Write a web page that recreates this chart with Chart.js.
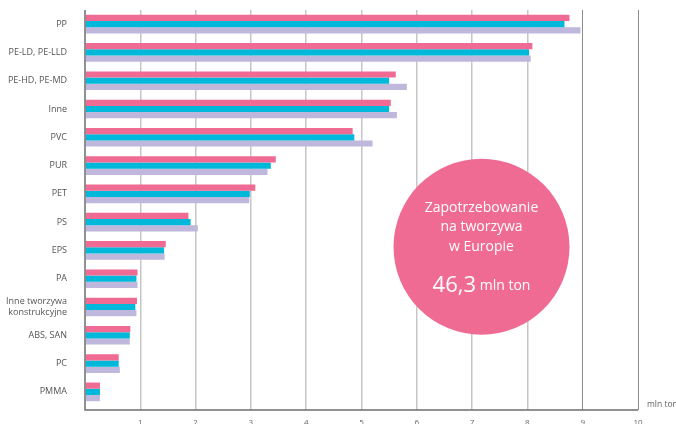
<!DOCTYPE html>
<html>
<head>
<meta charset="utf-8">
<script src="https://cdn.jsdelivr.net/npm/chart.js@4/dist/chart.umd.min.js"></script>
<style>
html,body{margin:0;padding:0;background:#fff;}
#wrap{width:676px;height:424px;position:relative;}
</style>
</head>
<body>
<div id="wrap"><canvas id="c" width="676" height="424"></canvas></div>
<script>
const categories = ['PP','PE-LD, PE-LLD','PE-HD, PE-MD','Inne','PVC','PUR','PET','PS','EPS','PA',['Inne tworzywa','konstrukcyjne'],'ABS, SAN','PC','PMMA'];
const series1 = [8.76, 8.09, 5.62, 5.53, 4.84, 3.45, 3.08, 1.87, 1.46, 0.95, 0.94, 0.82, 0.61, 0.27];
const series2 = [8.67, 8.03, 5.50, 5.50, 4.87, 3.36, 2.98, 1.91, 1.43, 0.93, 0.91, 0.81, 0.61, 0.27];
const series3 = [8.96, 8.06, 5.82, 5.64, 5.20, 3.30, 2.97, 2.04, 1.44, 0.95, 0.93, 0.81, 0.63, 0.27];
const xTicks = [0,1,2,3,4,5,6,7,8,9,10];
const unitLabel = 'mln ton';
const circleLines = ['Zapotrzebowanie','na tworzywa','w Europie'];
const totalValue = '46,3';

const FONT = '"Open Sans", sans-serif';
const PINK = '#F06B94', CYAN = '#00B8D9', LAV = '#C0B7DC';

const overlay = {
  id: 'overlay',
  afterDatasetsDraw(chart) {
    const ctx = chart.ctx, a = chart.chartArea, xs = chart.scales.x;
    ctx.save();
    ctx.strokeStyle = '#6e6e6e';
    ctx.lineWidth = 1.5;
    ctx.beginPath();
    ctx.moveTo(a.left, a.top);
    ctx.lineTo(a.left, a.bottom + 4);
    ctx.lineTo(xs.getPixelForValue(10), a.bottom + 4);
    ctx.stroke();
    // unit label
    ctx.fillStyle = '#666';
    ctx.font = '8.5px ' + FONT;
    ctx.textAlign = 'left';
    ctx.textBaseline = 'middle';
    ctx.fillText(unitLabel, xs.getPixelForValue(10) + 9, a.bottom - 1);
    // circle
    const cx = xs.getPixelForValue(7.17);
    const cy = a.top + (a.bottom - a.top) * 0.598;
    ctx.fillStyle = PINK;
    ctx.beginPath();
    ctx.arc(cx, cy, 88, 0, Math.PI * 2);
    ctx.fill();
    ctx.fillStyle = '#fff';
    ctx.textAlign = 'center';
    ctx.font = '14px ' + FONT;
    circleLines.forEach((t, i) => ctx.fillText(t, cx, cy - 39 + i * 19.5));
    ctx.font = '22px ' + FONT;
    const w1 = ctx.measureText(totalValue).width;
    ctx.font = '14px ' + FONT;
    const w2 = ctx.measureText(' ' + unitLabel).width;
    const sx = cx - (w1 + w2) / 2;
    ctx.textAlign = 'left';
    ctx.textBaseline = 'alphabetic';
    ctx.font = '22px ' + FONT;
    ctx.fillText(totalValue, sx, cy + 45);
    ctx.font = '14px ' + FONT;
    ctx.fillText(' ' + unitLabel, sx + w1, cy + 43);
    ctx.restore();
  }
};

function gridColor(ctx) {
  const v = ctx.tick ? ctx.tick.value : 0;
  if (v === 0) return 'rgba(0,0,0,0)';
  return v >= 9 ? '#8c8c8c' : '#c6c6c6';
}

new Chart(document.getElementById('c'), {
  type: 'bar',
  data: {
    labels: categories,
    datasets: [
      { label: 'A', data: series1, backgroundColor: PINK },
      { label: 'B', data: series2, backgroundColor: CYAN },
      { label: 'C', data: series3, backgroundColor: LAV }
    ]
  },
  options: {
    indexAxis: 'y',
    responsive: false,
    animation: false,
    devicePixelRatio: 1,
    layout: { padding: { top: 10, right: 38, left: 0, bottom: 0 } },
    datasets: { bar: { categoryPercentage: 0.66, barPercentage: 1.0 } },
    plugins: { legend: { display: false }, tooltip: { enabled: false } },
    scales: {
      x: {
        min: 0, max: 10,
        afterBuildTicks(s) { s.ticks = xTicks.map(v => ({ value: v })); },
        afterFit(s) { s.height = 18; s.paddingLeft = 0; s.paddingRight = 0; },
        border: { display: false },
        grid: {
          color: gridColor,
          tickColor: gridColor,
          lineWidth: (c) => (c.tick && c.tick.value >= 9) ? 1 : 1.5,
          drawTicks: true,
          tickLength: 4
        },
        ticks: {
          padding: 8,
          color: '#666',
          font: { family: FONT, size: 8 },
          callback: (v) => v === 0 ? '' : String(v)
        }
      },
      y: {
        afterFit(s) { s.width = 85; s.paddingTop = 0; s.paddingBottom = 0; },
        border: { display: false },
        grid: { display: false, drawTicks: false },
        ticks: {
          padding: 18,
          color: '#555',
          font: { family: FONT, size: 9 }
        }
      }
    }
  },
  plugins: [overlay]
});
</script>
</body>
</html>
